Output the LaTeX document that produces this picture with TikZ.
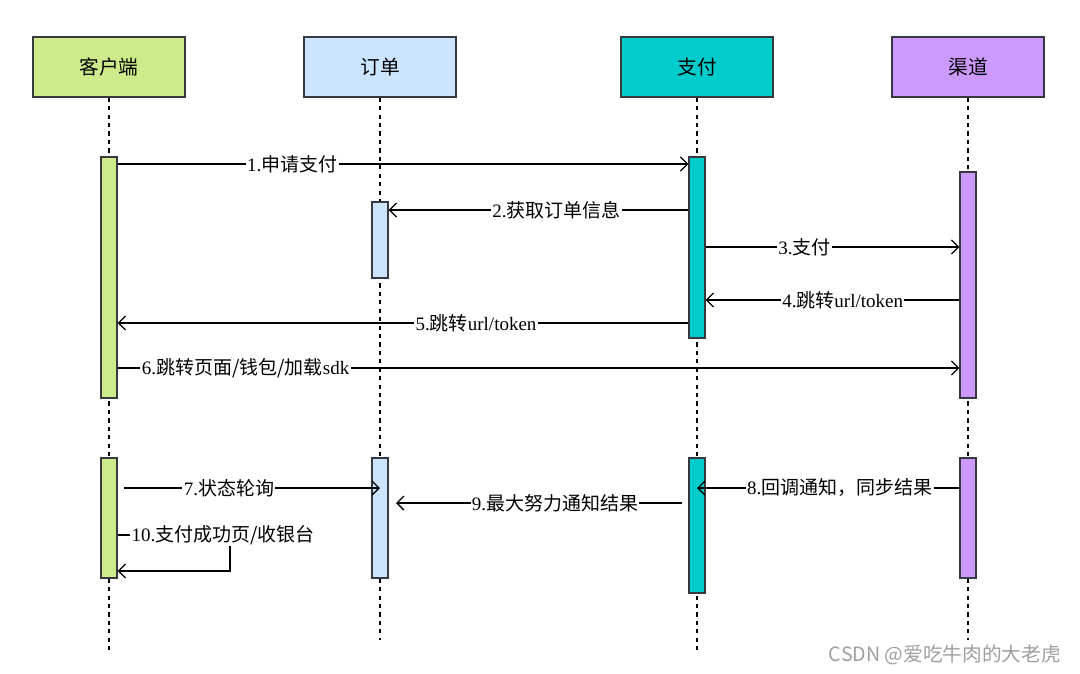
\documentclass[tikz,border=0pt]{standalone}
\usepackage{fontspec}
\setmainfont{Liberation Serif}
\newfontfamily\cjk{Noto Sans CJK SC}
\usetikzlibrary{arrows.meta}
\definecolor{clientc}{HTML}{CDEB8B}
\definecolor{orderc}{HTML}{CCE5FF}
\definecolor{payc}{HTML}{00CCCC}
\definecolor{chanc}{HTML}{CC99FF}
\definecolor{edgec}{HTML}{36393D}
\newcommand\zh[1]{{\cjk #1}}

\begin{document}
\begin{tikzpicture}[x=0.025cm,y=-0.025cm]
\tikzset{head/.style = {shape=rectangle,draw=edgec,line width=1pt,minimum width=3.8cm,minimum height=1.5cm,font=\cjk\fontsize{14}{16}\selectfont}}
\tikzset{bar/.style = {shape=rectangle,draw=edgec,line width=0.9pt,inner sep=0pt,minimum width=0.4cm}}
\tikzset{life/.style = {dashed,line width=0.8pt}}
\tikzset{msg/.style = {-{Straight Barb[length=5pt,width=10pt]},line width=0.9pt}}
\tikzset{lbl/.style = {fill=white,inner sep=1pt,font=\fontsize{13.5}{15}\selectfont}}
\useasboundingbox (0,0) rectangle (1080,673);
% participants
\node[head,fill=clientc](client) at (109,67) {客户端};
\node[head,fill=orderc](order) at (380,67) {订单};
\node[head,fill=payc](pay) at (697,67) {支付};
\node[head,fill=chanc](chan) at (968,67) {渠道};
% lifelines
\coordinate (endA) at (0,650);
\coordinate (endB) at (0,640);
\draw[life] (client.south) -- (client.south |- endA);
\draw[life] (order.south) -- (order.south |- endB);
\draw[life] (pay.south) -- (pay.south |- endA);
\draw[life] (chan.south) -- (chan.south |- endB);
% activations
\node[bar,fill=clientc,minimum height=6.025cm](c1) at (109,277.5) {};
\node[bar,fill=orderc,minimum height=1.9cm](o1) at (380,240) {};
\node[bar,fill=payc,minimum height=4.525cm](p1) at (697,247.5) {};
\node[bar,fill=chanc,minimum height=5.65cm](h1) at (968,285) {};
\node[bar,fill=clientc,minimum height=3cm](c2) at (109,518) {};
\node[bar,fill=orderc,minimum height=3cm](o2) at (380,518) {};
\node[bar,fill=payc,minimum height=3.375cm](p2) at (697,525.5) {};
\node[bar,fill=chanc,minimum height=3cm](h2) at (968,518) {};
% message rows
\coordinate (r1) at (0,164);
\coordinate (r2) at (0,210);
\coordinate (r3) at (0,247);
\coordinate (r4) at (0,300);
\coordinate (r5) at (0,323);
\coordinate (r6) at (0,368);
\coordinate (s7) at (124,488);
\coordinate (r8) at (0,488);
\coordinate (s9) at (682,503);
\coordinate (e9) at (396,503);
\coordinate (r10) at (0,535);
\coordinate (turn1) at (230,535);
\coordinate (turn2) at (230,571);
% messages
\draw[msg] (c1.east |- r1) -- (p1.west |- r1) node[lbl,pos=0.306] {1.\zh{申请支付}};
\draw[msg] (p1.west |- r2) -- (o1.east |- r2) node[lbl,pos=0.44] {2.\zh{获取订单信息}};
\draw[msg] (p1.east |- r3) -- (h1.west |- r3) node[lbl,pos=0.39] {3.\zh{支付}};
\draw[msg] (h1.west |- r4) -- (p1.east |- r4) node[lbl,pos=0.46] {4.\zh{跳转}url/token};
\draw[msg] (p1.west |- r5) -- (c1.east |- r5) node[lbl,pos=0.372] {5.\zh{跳转}url/token};
\draw[msg] (c1.east |- r6) -- (h1.west |- r6) node[lbl,pos=0.152] {6.\zh{跳转页面/钱包/加载}sdk};
\draw[msg] (s7) -- (o2 |- s7) node[lbl,pos=0.41] {7.\zh{状态轮询}};
\draw[msg] (h2.west |- r8) -- (p2 |- r8) node[lbl,pos=0.456] {8.\zh{回调通知，同步结果}};
\draw[msg] (s9) -- (e9) node[lbl,pos=0.444] {9.\zh{最大努力通知结果}};
\draw[msg] (c2.east |- r10) -- node[lbl,pos=0.94] {10.\zh{支付成功页/收银台}} (turn1) -- (turn2) -- (c2.east |- turn2);
% watermark
\node[text=gray!75,font=\cjk\fontsize{14}{16}\selectfont,anchor=east](mark) at (1066,655) {CSDN @爱吃牛肉的大老虎};
\end{tikzpicture}
\end{document}
